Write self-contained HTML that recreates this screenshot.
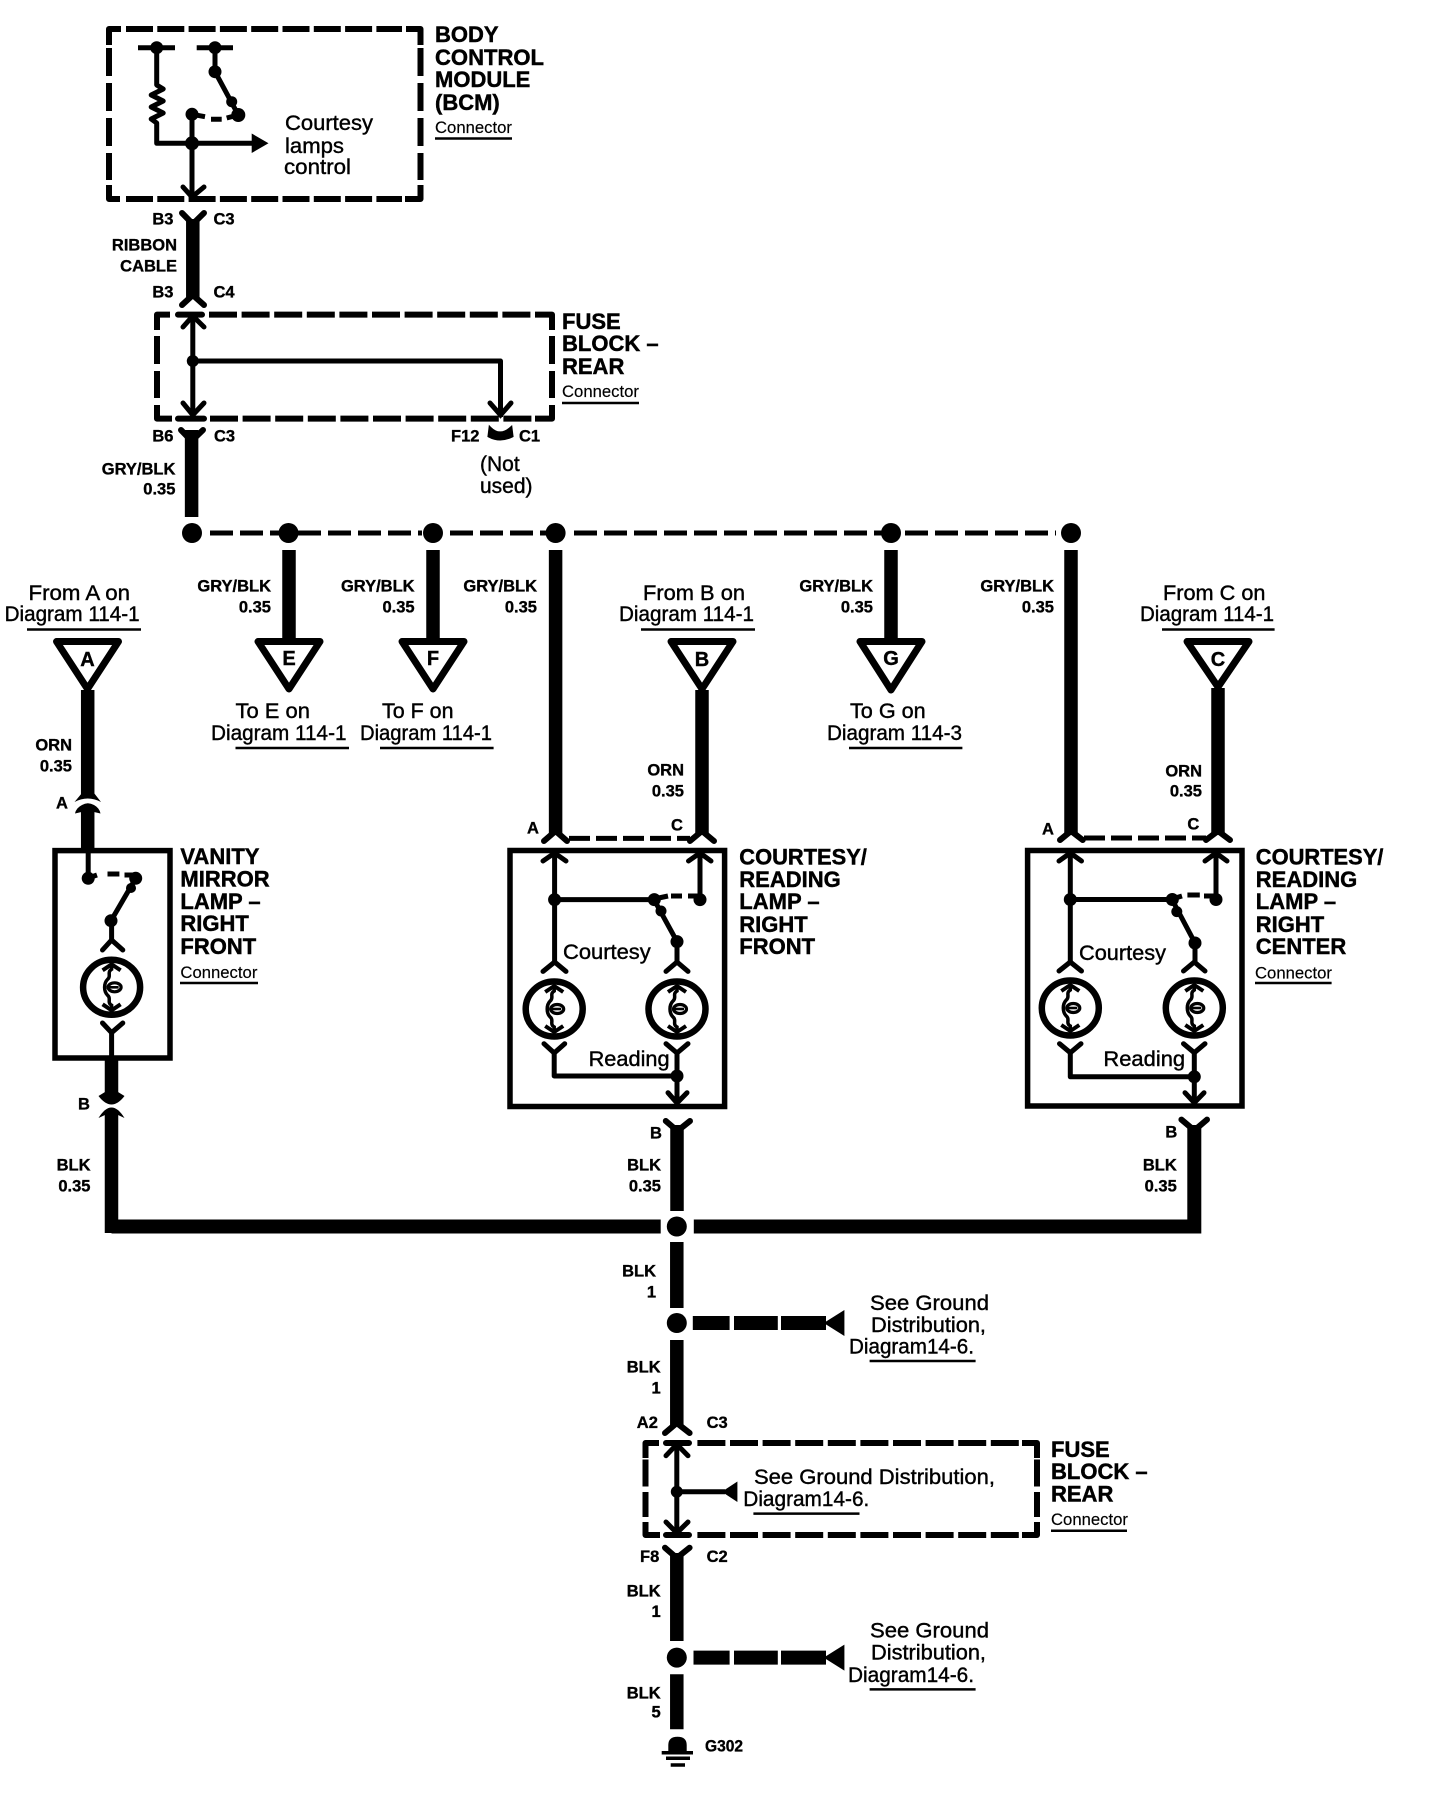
<!DOCTYPE html>
<html><head><meta charset="utf-8"><style>
html,body{margin:0;padding:0;background:#fff}
svg{display:block}
text{font-family:"Liberation Sans",sans-serif;fill:#000}
.h{font-size:22px;font-weight:bold;stroke:#000;stroke-width:.45}
.r{font-size:21px;stroke:#000;stroke-width:.4}
.c{font-size:16.5px;stroke:#000;stroke-width:.15}
.s{font-size:16.5px;font-weight:bold;stroke:#000;stroke-width:.35;transform:translateY(-.4px)}
.e{text-anchor:end}
.l{font-size:20px;font-weight:bold;text-anchor:middle;stroke:#000;stroke-width:.4}
.t{fill:none;stroke:#000;stroke-width:5;stroke-linejoin:round}
.w{fill:none;stroke:#000;stroke-width:13.5}
.f{fill:none;stroke:#000;stroke-width:6;stroke-linecap:round;stroke-linejoin:miter}
.f2{fill:none;stroke:#000;stroke-width:5;stroke-linecap:round;stroke-linejoin:miter}
.d1{fill:none;stroke:#000;stroke-width:6;stroke-dasharray:27 4.3}
.d2{fill:none;stroke:#000;stroke-width:6;stroke-dasharray:28 4.6}
.sd{fill:none;stroke:#000;stroke-width:6;stroke-dasharray:28 7}
.sd2{fill:none;stroke:#000;stroke-width:6;stroke-dasharray:27 5.5}
.cn{fill:none;stroke:#000;stroke-width:6;stroke-linejoin:round;stroke-linecap:round}
.cb{fill:none;stroke:#000;stroke-width:6;stroke-linejoin:round;stroke-linecap:butt}
.dl{fill:none;stroke:#000;stroke-width:5;stroke-dasharray:21 6}
.u{stroke:#000;stroke-width:2.5}
.bs{fill:none;stroke:#000;stroke-width:5;stroke-dasharray:23 7}
.tri{fill:#fff;stroke:#000;stroke-width:7;stroke-linejoin:round}
</style></head><body>
<svg width="1440" height="1794" viewBox="0 0 1440 1794" xmlns="http://www.w3.org/2000/svg">
<defs>
<g id="lamp">
<ellipse cx="0" cy="0" rx="28.5" ry="27.5" fill="#fff" stroke="#000" stroke-width="6.5"/>
<path d="M-9,-17 L0,-23 L9,-17 M-9,17 L0,23 L9,17" fill="none" stroke="#000" stroke-width="4"/>
<path d="M0,-24 V-18 C-5,-15 0,-11 -4,-8 C-8,-4 -8,4 -4,8 C0,11 -5,15 0,18 V24" fill="none" stroke="#000" stroke-width="3.5"/>
<ellipse cx="3" cy="0" rx="6.5" ry="4.5" fill="none" stroke="#000" stroke-width="3.2"/>
<path d="M-5,0 H7" stroke="#000" stroke-width="2.6"/>
</g>
</defs>

<!-- BCM -->
<path class="cb" d="M109,45V29H121 M406,29H420.5V45 M109,185V199H120 M405,199H420.5V185"/>
<path class="d1" d="M126,29H402 M126,199H402"/>
<path class="sd" d="M109,48V180 M420.5,48V180"/>
<path class="t" d="M138,47.7H175 M196.7,47.7H233"/>
<circle cx="156.7" cy="47.7" r="6.5"/><circle cx="215" cy="47.7" r="6.5"/>
<path class="t" d="M156.7,47.7V85 l6.5,4 l-12,6 l12,6 l-12,6 l12,6 l-12,6 l5.5,4 V143.3 H255"/>
<polygon points="251.7,133.5 268.5,143.3 251.7,153"/>
<path class="t" d="M192,114V199"/>
<path class="f2" d="M183,187 L192,197 L204,187"/>
<circle cx="192" cy="143.3" r="7"/><circle cx="192" cy="114.3" r="6.5"/>
<path class="t" d="M192,114.3 L205,116.7 M211,119.3H221.7 M226.7,118L238,115"/>
<path class="t" d="M215,47.7V71.7 L238.3,115"/>
<circle cx="215" cy="71.7" r="6.5"/><circle cx="231.7" cy="101.7" r="5.5"/><circle cx="238.3" cy="115" r="7"/>
<text class="r" x="285" y="130" textLength="88" lengthAdjust="spacingAndGlyphs">Courtesy</text>
<text class="r" x="285" y="153" textLength="59" lengthAdjust="spacingAndGlyphs">lamps</text>
<text class="r" x="284" y="174" textLength="67" lengthAdjust="spacingAndGlyphs">control</text>
<text class="h" x="435" y="42">BODY</text>
<text class="h" x="435" y="65" textLength="109" lengthAdjust="spacingAndGlyphs">CONTROL</text>
<text class="h" x="435" y="87">MODULE</text>
<text class="h" x="435" y="110">(BCM)</text>
<text class="c" x="435" y="133" textLength="77" lengthAdjust="spacingAndGlyphs">Connector</text>
<line class="u" x1="435" y1="138.5" x2="512" y2="138.5"/>

<!-- Ribbon -->
<line class="w" x1="192.8" y1="219" x2="192.8" y2="298"/>
<path class="f" d="M182,213 L192.8,224 L204,213 M182,305 L192.8,295 L204,305"/>
<text class="s" x="152.4" y="225">B3</text><text class="s" x="213.5" y="225">C3</text>
<text class="s e" x="177" y="251">RIBBON</text><text class="s e" x="177" y="272">CABLE</text>
<text class="s" x="152.4" y="298">B3</text><text class="s" x="213.5" y="298">C4</text>

<!-- Fuse block 1 -->
<path class="cb" d="M157,330V314.6H170 M535,314.6H552V330 M157,405V418.6H172 M535,418.6H552V405"/>
<path class="d2" d="M209,314.6H532 M210,418.6H534"/>
<path class="cn" d="M178,314.6H202 M178,418.6H204"/>
<path class="sd" d="M157,336V398 M552,336V398"/>
<path class="t" d="M192.8,315V417 M192.8,361H500.5V417"/>
<path class="f2" d="M183,327 L192.8,316 L204,327 M183,403 L192.8,415 L204,403 M490,403 L500.5,415 L511,403"/>
<circle cx="192.8" cy="361" r="6"/>
<path d="M490,428 Q500,438 511,428 L512,436 Q500,442 489,436Z" stroke="#000" stroke-width="3"/>
<text class="h" x="562" y="329">FUSE</text>
<text class="h" x="562" y="351">BLOCK –</text>
<text class="h" x="562" y="374">REAR</text>
<text class="c" x="562" y="397" textLength="77" lengthAdjust="spacingAndGlyphs">Connector</text>
<line class="u" x1="562" y1="403" x2="639" y2="403"/>
<text class="s" x="152.4" y="442">B6</text><text class="s" x="214" y="442">C3</text>
<text class="s" x="451" y="442">F12</text><text class="s" x="519" y="442">C1</text>
<text class="r" x="480" y="471">(Not</text><text class="r" x="480" y="493">used)</text>
<line class="w" x1="191.6" y1="430" x2="191.6" y2="517"/>
<path class="f" d="M181,430 L191.6,441 L203,430"/>
<text class="s e" x="175.4" y="475">GRY/BLK</text><text class="s e" x="175.4" y="495">0.35</text>

<!-- Bus -->
<path class="bs" d="M210,533H280 M298,533H422 M450,533H546 M574,533H882 M905,533H1056"/>
<circle cx="192" cy="533" r="10"/><circle cx="288.5" cy="533" r="10"/><circle cx="433" cy="533" r="10"/><circle cx="555.6" cy="533" r="10"/><circle cx="891" cy="533" r="10"/><circle cx="1071" cy="533" r="10"/>

<!-- E F G -->
<line class="w" x1="289" y1="550" x2="289" y2="640"/>
<polygon class="tri" points="258,641.5 320,641.5 289,689"/>
<text class="l" x="289" y="665">E</text>
<line class="w" x1="433" y1="550" x2="433" y2="640"/>
<polygon class="tri" points="402,641.5 464,641.5 433,689"/>
<text class="l" x="433" y="665">F</text>
<line class="w" x1="891" y1="550" x2="891" y2="640"/>
<polygon class="tri" points="860,641.5 922,641.5 891,690"/>
<text class="l" x="891" y="665">G</text>
<text class="s e" x="271" y="592">GRY/BLK</text><text class="s e" x="271" y="613">0.35</text>
<text class="s e" x="414.6" y="592">GRY/BLK</text><text class="s e" x="414.6" y="613">0.35</text>
<text class="s e" x="537" y="592">GRY/BLK</text><text class="s e" x="537" y="613">0.35</text>
<text class="s e" x="873" y="592">GRY/BLK</text><text class="s e" x="873" y="613">0.35</text>
<text class="s e" x="1054" y="592">GRY/BLK</text><text class="s e" x="1054" y="613">0.35</text>
<text class="r" x="235.5" y="718" textLength="74.5" lengthAdjust="spacingAndGlyphs">To E on</text>
<text class="r" x="211" y="740" textLength="135.5" lengthAdjust="spacingAndGlyphs">Diagram 114-1</text>
<line class="u" x1="235.5" y1="748" x2="349" y2="748"/>
<text class="r" x="382" y="718" textLength="71.5" lengthAdjust="spacingAndGlyphs">To F on</text>
<text class="r" x="360" y="740" textLength="132" lengthAdjust="spacingAndGlyphs">Diagram 114-1</text>
<line class="u" x1="380" y1="748" x2="493.6" y2="748"/>
<text class="r" x="850" y="718" textLength="75.7" lengthAdjust="spacingAndGlyphs">To G on</text>
<text class="r" x="827" y="740" textLength="135" lengthAdjust="spacingAndGlyphs">Diagram 114-3</text>
<line class="u" x1="849" y1="748" x2="962.4" y2="748"/>

<!-- A source + Vanity -->
<text class="r" x="28.5" y="600" textLength="101.5" lengthAdjust="spacingAndGlyphs">From A on</text>
<text class="r" x="4.6" y="621" textLength="135" lengthAdjust="spacingAndGlyphs">Diagram 114-1</text>
<line class="u" x1="27" y1="629.5" x2="141" y2="629.5"/>
<polygon class="tri" points="56.5,641.5 118.5,641.5 87.5,689"/>
<text class="l" x="87.5" y="666">A</text>
<line class="w" x1="87.7" y1="690" x2="87.7" y2="796"/>
<path d="M74.5,802 L82,793 H94 L101,802 Q87.7,795 74.5,802Z"/>
<path d="M75,813.5 Q76,808 82,805 Q87.7,801.5 94,805 Q99.5,808 100.5,813.5 L94,812 H81.5Z"/>
<line class="w" x1="87.7" y1="808" x2="87.7" y2="851"/>
<text class="s" x="56" y="809">A</text>
<text class="s e" x="72" y="751">ORN</text><text class="s e" x="72" y="772">0.35</text>
<rect x="55" y="850.6" width="115" height="207.4" fill="none" stroke="#000" stroke-width="5.5"/>
<path class="t" d="M88.2,850V878 M88.2,878L97,875 M107.5,874H119.4 M124.5,875H135.7"/>
<circle cx="88.2" cy="878.3" r="6.5"/>
<circle cx="135.7" cy="878.3" r="6.5"/>
<path class="t" d="M135.7,878.3L111,920.7"/>
<circle cx="131" cy="888" r="5"/><circle cx="111" cy="920.7" r="6.5"/>
<path class="t" d="M111.6,920V942"/>
<path class="f2" d="M102.5,950L111.6,940L122.8,950"/>
<use href="#lamp" x="111.6" y="987.3"/>
<path class="f2" d="M102.5,1023L111.6,1032.7L122.8,1023"/>
<path class="t" d="M111.6,1032V1058"/>
<line class="w" x1="111.5" y1="1058" x2="111.5" y2="1098"/>
<path d="M98.5,1096 L105,1092 H118 L124.5,1096 Q111.5,1113 98.5,1096Z"/>
<path d="M98.5,1118 Q111.5,1097 124.5,1118 L118,1115 H105Z"/>
<line class="w" x1="111.5" y1="1110" x2="111.5" y2="1233"/>
<text class="s" x="78" y="1110">B</text>
<text class="s e" x="90.5" y="1171">BLK</text><text class="s e" x="90.5" y="1192">0.35</text>
<text class="h" x="180.4" y="864">VANITY</text>
<text class="h" x="180.4" y="886.5">MIRROR</text>
<text class="h" x="180.4" y="909">LAMP –</text>
<text class="h" x="180.4" y="931">RIGHT</text>
<text class="h" x="180.4" y="954">FRONT</text>
<text class="c" x="180.4" y="978" textLength="77" lengthAdjust="spacingAndGlyphs">Connector</text>
<line class="u" x1="180" y1="983" x2="258" y2="983"/>

<!-- Courtesy left -->
<line class="w" x1="555.6" y1="550" x2="555.6" y2="835"/>
<text class="r" x="643" y="600" textLength="102" lengthAdjust="spacingAndGlyphs">From B on</text>
<text class="r" x="619" y="621" textLength="135" lengthAdjust="spacingAndGlyphs">Diagram 114-1</text>
<line class="u" x1="641" y1="629.5" x2="755" y2="629.5"/>
<polygon class="tri" points="671,641.5 733,641.5 702,689"/>
<text class="l" x="702" y="666">B</text>
<line class="w" x1="702" y1="690" x2="702" y2="835"/>
<path class="f" d="M544,841L555.6,831L567,841 M690,841L702,831L714,841"/>
<path class="dl" d="M569,838.4H690"/>
<text class="s" x="527" y="834">A</text><text class="s" x="671" y="831">C</text>
<text class="s e" x="684" y="776">ORN</text><text class="s e" x="684" y="797">0.35</text>
<rect x="510" y="850.5" width="214.6" height="256" fill="none" stroke="#000" stroke-width="5.5"/>
<path class="t" d="M554.6,853V965 M700,853V899.6 M554.6,899.6H654 L677,941.6V965"/>
<path class="f2" d="M543,861L554.6,853L566,861 M688.5,861L700,853L711,861 M543,971.4L554.6,962L566,971.4 M666,971.4L677,962L688,971.4"/>
<circle cx="554.6" cy="899.6" r="6.5"/><circle cx="654.3" cy="899.6" r="6.5"/><circle cx="700" cy="899.6" r="6.5"/><circle cx="661" cy="911" r="5.5"/><circle cx="677" cy="941.6" r="6.5"/>
<path class="t" d="M654,899L668,896 M671,896H682 M688,896H700"/>
<use href="#lamp" x="554.2" y="1009"/><use href="#lamp" x="677" y="1009"/>
<path class="f2" d="M544,1043.7L554.2,1053L564.7,1043.7 M666,1043.7L677,1053L688,1043.7"/>
<path class="t" d="M554.2,1053V1076H677 M677,1053V1102"/>
<circle cx="677" cy="1076" r="6.5"/>
<path class="f2" d="M668,1092.7L677,1103L687,1092.7"/>
<text class="r" x="563" y="959" textLength="87.7" lengthAdjust="spacingAndGlyphs">Courtesy</text>
<text class="r" x="588.6" y="1066" textLength="81" lengthAdjust="spacingAndGlyphs">Reading</text>
<text class="h" x="739.3" y="864.7" textLength="127.6" lengthAdjust="spacingAndGlyphs">COURTESY/</text>
<text class="h" x="739.3" y="887">READING</text>
<text class="h" x="739.3" y="909">LAMP –</text>
<text class="h" x="739.3" y="932">RIGHT</text>
<text class="h" x="739.3" y="954">FRONT</text>
<line class="w" x1="677" y1="1125" x2="677" y2="1211"/>
<path class="f" d="M665.8,1121L677.5,1131L690,1121"/>
<text class="s" x="650" y="1139">B</text>
<text class="s e" x="661" y="1171">BLK</text><text class="s e" x="661" y="1192">0.35</text>

<!-- Courtesy right -->
<line class="w" x1="1071" y1="550" x2="1071" y2="835"/>
<text class="r" x="1163" y="600" textLength="102.5" lengthAdjust="spacingAndGlyphs">From C on</text>
<text class="r" x="1140" y="621" textLength="134" lengthAdjust="spacingAndGlyphs">Diagram 114-1</text>
<line class="u" x1="1162" y1="629.5" x2="1274.6" y2="629.5"/>
<polygon class="tri" points="1187,641.5 1249,641.5 1218,687"/>
<text class="l" x="1218" y="666">C</text>
<line class="w" x1="1218" y1="688" x2="1218" y2="835"/>
<path class="f" d="M1060,840L1071,831L1082.7,840 M1206,840L1218,831L1230,840"/>
<path class="dl" d="M1084,838H1206"/>
<text class="s" x="1042" y="835">A</text><text class="s" x="1187.4" y="830">C</text>
<text class="s e" x="1202" y="776.8">ORN</text><text class="s e" x="1202" y="797">0.35</text>
<rect x="1027.6" y="850.5" width="214.4" height="255.5" fill="none" stroke="#000" stroke-width="5.5"/>
<path class="t" d="M1070.3,853V965 M1216,853V899.5 M1070.3,899.5H1172 L1195,943V965"/>
<path class="f2" d="M1059,861L1070.3,853L1081.5,861 M1205,861L1216,853L1227,861 M1059,971L1070.3,962L1081.5,971 M1183.5,971L1194.3,962L1205,971"/>
<circle cx="1070.3" cy="899.5" r="6.5"/><circle cx="1172.3" cy="899.5" r="6.5"/><circle cx="1216" cy="899.5" r="6.5"/><circle cx="1176.8" cy="911.6" r="5.5"/><circle cx="1195" cy="943" r="6.5"/>
<path class="t" d="M1172,899L1182,896 M1187.4,895H1199.8 M1204,896H1216"/>
<use href="#lamp" x="1070.3" y="1008"/><use href="#lamp" x="1194.3" y="1008"/>
<path class="f2" d="M1059.5,1043.7L1070.3,1052.7L1081,1043.7 M1183.5,1043.7L1194.3,1052.7L1205,1043.7"/>
<path class="t" d="M1070.3,1052.7V1076.8H1194.3 M1194.3,1052.7V1102"/>
<circle cx="1194.3" cy="1076.8" r="6.5"/>
<path class="f2" d="M1185,1092.7L1194.3,1102.7L1204,1092.7"/>
<text class="r" x="1079" y="960" textLength="87" lengthAdjust="spacingAndGlyphs">Courtesy</text>
<text class="r" x="1103.4" y="1066" textLength="81.7" lengthAdjust="spacingAndGlyphs">Reading</text>
<text class="h" x="1255.8" y="864.7" textLength="127.6" lengthAdjust="spacingAndGlyphs">COURTESY/</text>
<text class="h" x="1255.8" y="887">READING</text>
<text class="h" x="1255.8" y="909">LAMP –</text>
<text class="h" x="1255.8" y="932">RIGHT</text>
<text class="h" x="1255.8" y="954">CENTER</text>
<text class="c" x="1255" y="978.6" textLength="77" lengthAdjust="spacingAndGlyphs">Connector</text>
<line class="u" x1="1255" y1="983" x2="1331.6" y2="983"/>
<path class="f" d="M1181.4,1119.6L1194.3,1130.4L1207,1119.6"/>
<text class="s" x="1165.4" y="1138">B</text>
<text class="s e" x="1176.8" y="1171">BLK</text><text class="s e" x="1176.8" y="1192">0.35</text>

<!-- Main ground bus -->
<path d="M111.5,1226.5H660.7 M693.8,1226.5H1194.3V1125" fill="none" stroke="#000" stroke-width="14"/>
<circle cx="676.8" cy="1226.5" r="10"/>

<!-- lower chain -->
<line class="w" x1="676.8" y1="1242" x2="676.8" y2="1308"/>
<circle cx="676.8" cy="1323" r="10"/>
<path d="M692.8,1316H729.6V1330H692.8Z M734,1316H777.8V1330H734Z M781,1316H826V1330H781Z"/>
<polygon points="823.7,1323 844.4,1310 844.4,1336"/>
<text class="r" x="870" y="1310" textLength="119" lengthAdjust="spacingAndGlyphs">See Ground</text>
<text class="r" x="871" y="1331.8" textLength="115" lengthAdjust="spacingAndGlyphs">Distribution,</text>
<text class="r" x="849" y="1353.4" textLength="125" lengthAdjust="spacingAndGlyphs">Diagram14-6.</text>
<line class="u" x1="869.6" y1="1361" x2="975.6" y2="1361"/>
<text class="s e" x="656" y="1277">BLK</text><text class="s e" x="656" y="1297.7">1</text>
<line class="w" x1="676.8" y1="1340" x2="676.8" y2="1426"/>
<path class="f" d="M665,1433L676.8,1423L689.6,1433"/>
<text class="s e" x="660.7" y="1373">BLK</text><text class="s e" x="660.7" y="1394">1</text>
<text class="s" x="636.8" y="1428.4">A2</text><text class="s" x="706.6" y="1428.4">C3</text>

<!-- Fuse block 2 -->
<path class="cb" d="M645.5,1458V1443H659 M1022,1443H1037V1458 M645.5,1522V1535H660 M1022,1535H1037V1522"/>
<path class="d2" d="M697.4,1443H1020 M697.4,1535H1020"/>
<path class="cn" d="M666,1443H689 M666,1535H689"/>
<path class="sd2" d="M645.5,1459.5V1517 M1037,1459.5V1517"/>
<path class="t" d="M676.8,1445V1533 M676.8,1491.7H725"/>
<path class="f2" d="M666,1455.7L676.8,1444.3L688,1455.7 M666,1522L676.8,1533L688,1522"/>
<circle cx="676.8" cy="1491.7" r="6"/>
<polygon points="721.8,1491.7 737.4,1481.5 737.4,1502"/>
<text class="r" x="754" y="1484" textLength="241" lengthAdjust="spacingAndGlyphs">See Ground Distribution,</text>
<text class="r" x="743.3" y="1506" textLength="126" lengthAdjust="spacingAndGlyphs">Diagram14-6.</text>
<line class="u" x1="753.4" y1="1513.6" x2="859.5" y2="1513.6"/>
<text class="h" x="1051" y="1457">FUSE</text>
<text class="h" x="1051" y="1479">BLOCK –</text>
<text class="h" x="1051" y="1501.5">REAR</text>
<text class="c" x="1051" y="1525" textLength="77" lengthAdjust="spacingAndGlyphs">Connector</text>
<line class="u" x1="1051" y1="1530.7" x2="1127" y2="1530.7"/>

<line class="w" x1="676.8" y1="1553" x2="676.8" y2="1641"/>
<path class="f" d="M665,1547.7L676.8,1558L689.6,1547.7"/>
<text class="s" x="640" y="1562.5">F8</text><text class="s" x="706.6" y="1562.5">C2</text>
<text class="s e" x="660.7" y="1597">BLK</text><text class="s e" x="660.7" y="1617.4">1</text>
<circle cx="676.8" cy="1657.6" r="10"/>
<path d="M693.5,1650.6H729.6V1664.6H693.5Z M734,1650.6H777.8V1664.6H734Z M781,1650.6H826V1664.6H781Z"/>
<polygon points="823.7,1657.6 844.4,1644.6 844.4,1670.6"/>
<text class="r" x="870" y="1637.5" textLength="119" lengthAdjust="spacingAndGlyphs">See Ground</text>
<text class="r" x="871" y="1659.5" textLength="115" lengthAdjust="spacingAndGlyphs">Distribution,</text>
<text class="r" x="848" y="1681.8" textLength="126" lengthAdjust="spacingAndGlyphs">Diagram14-6.</text>
<line class="u" x1="869.6" y1="1689.4" x2="975.6" y2="1689.4"/>
<line class="w" x1="676.8" y1="1674.2" x2="676.8" y2="1729.3"/>
<text class="s e" x="660.7" y="1699">BLK</text><text class="s e" x="660.7" y="1718">5</text>
<path d="M668.3,1752 V1745 Q668.3,1736.7 677.5,1736.7 Q686.7,1736.7 686.7,1745 V1752Z"/>
<path d="M661.7,1752.7H693 M666,1758.3H690 M670.7,1765H685" stroke="#000" stroke-width="3.5" fill="none"/>
<text class="s" x="705" y="1752" textLength="38" lengthAdjust="spacingAndGlyphs">G302</text>
</svg>
</body></html>
